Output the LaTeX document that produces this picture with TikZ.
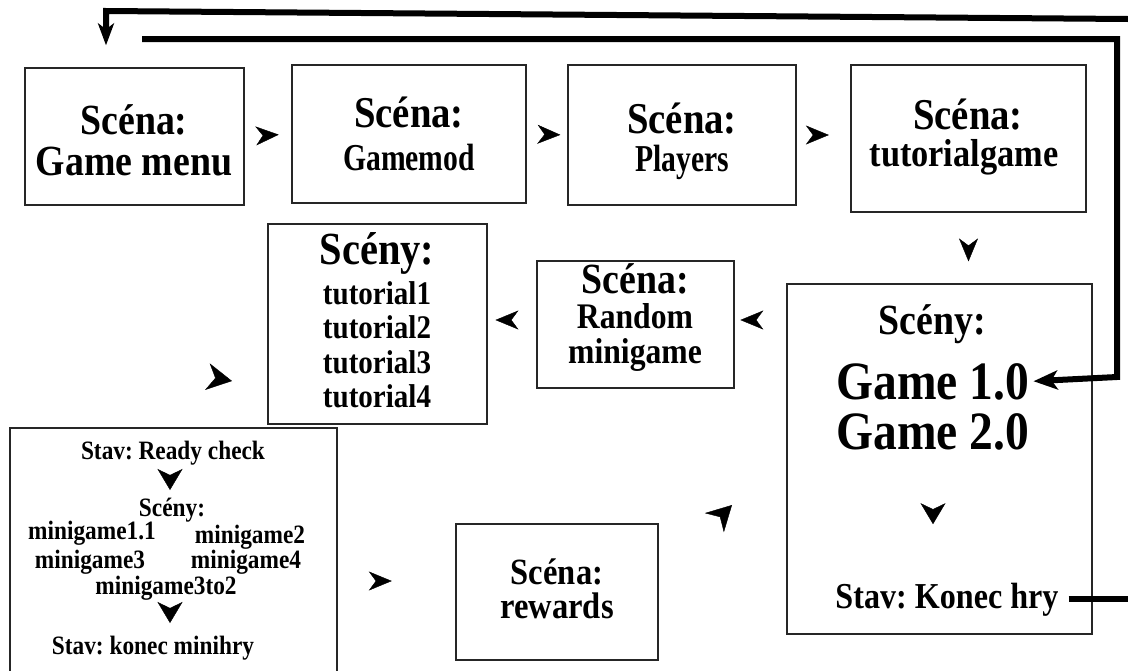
\documentclass[tikz,border=0pt]{standalone}
\usepackage{fontspec}
\setmainfont{Liberation Serif}[FakeStretch=0.88]
\newfontfamily\condfont{Liberation Serif}[FakeStretch=0.78]
\usetikzlibrary{arrows.meta,decorations.markings,calc}
\newcommand{\fz}[1]{\fontsize{#1}{#1}\selectfont\bfseries\frenchspacing}
\begin{document}
\begin{tikzpicture}[x=1pt,y=-1pt,
  box/.style={draw=black!85, line width=1.3pt, inner sep=0pt},
  lbl/.style={inner sep=0pt, anchor=base},
  big/.style={line width=6pt},
  bigtip/.style={-{Stealth[length=24pt,width=19pt,inset=6pt]}},
  topdown/.style={-{Stealth[length=22pt,width=16pt,inset=6pt]}},
  tipat/.style={decorate, decoration={markings, mark=at position #1 with {\arrow{Stealth[length=23pt,width=19pt,inset=7pt]}}}},
  fattipat/.style={decorate, decoration={markings, mark=at position #1 with {\arrow{Stealth[length=25pt,width=27pt,inset=8pt]}}}},
  smalltipat/.style={decorate, decoration={markings, mark=at position #1 with {\arrow{Stealth[length=21pt,width=25pt,inset=6pt]}}}}
]
\useasboundingbox (0,0) rectangle (1128,670);

% boxes
\node[box, minimum width=219, minimum height=137] (b1) at (134.5,136.5) {};
\node[box, minimum width=234, minimum height=138] (b2) at (409,134) {};
\node[box, minimum width=228, minimum height=140] (b3) at (682,135) {};
\node[box, minimum width=235, minimum height=147] (b4) at (968.5,138.5) {};
\node[box, minimum width=305, minimum height=350] (b5) at (939.5,459) {};
\node[box, minimum width=197, minimum height=127] (b6) at (635.5,324.5) {};
\node[box, minimum width=219, minimum height=200] (b7) at (377.5,324) {};
\node[box, minimum width=327, minimum height=246] (b8) at (173.5,551) {};
\node[box, minimum width=202, minimum height=136] (rw) at (557,592) {};

% texts
\node[lbl, font=\fz{43}] (t1a) at (134,134) {Scéna:};
\node[lbl, font=\fz{43}] (t1b) at (134,175) {Game menu};
\node[lbl, font=\fz{44}] (t2a) at (409,127) {Scéna:};
\node[lbl, font=\condfont\fz{38}] (t2b) at (409,170) {Gamemod};
\node[lbl, font=\fz{44}] (t3a) at (682,133) {Scéna:};
\node[lbl, font=\condfont\fz{38}] (t3b) at (682,171) {Players};
\node[lbl, font=\fz{44}] (t4a) at (968,129) {Scéna:};
\node[lbl, font=\fz{39}] (t4b) at (964,166) {tutorialgame};

\node[lbl, font=\fz{43}] (t6a) at (635,293) {Scéna:};
\node[lbl, font=\fz{36}] (t6b) at (635,328) {Random};
\node[lbl, font=\fz{36}] (t6c) at (635,363) {minigame};

\node[lbl, font=\fz{46}] (t7a) at (377,264) {Scény:};
\node[lbl, font=\fz{33}] (t7b) at (377,304) {tutorial1};
\node[lbl, font=\fz{33}] (t7c) at (377,338) {tutorial2};
\node[lbl, font=\fz{33}] (t7d) at (377,373) {tutorial3};
\node[lbl, font=\fz{33}] (t7e) at (377,407) {tutorial4};

\node[lbl, font=\fz{43}] (s5) at (932,334) {Scény:};
\node[lbl, font=\fz{54}] (g1) at (933,399) {Game 1.0};
\node[lbl, font=\fz{54}] (g2) at (933,449) {Game 2.0};
\node[lbl, font=\fz{36.5}] (k5) at (947,608) {Stav: Konec hry};

\node[lbl, font=\fz{37}] (rwa) at (557,584) {Scéna:};
\node[lbl, font=\fz{37}] (rwb) at (557,618) {rewards};

\node[lbl, font=\fz{26.5}] (rc) at (173,459) {Stav: Ready check};
\node[lbl, font=\fz{26.5}] (sc) at (172,516) {Scény:};
\node[lbl, font=\fz{26.5}] (m11) at (92,539) {minigame1.1};
\node[lbl, font=\fz{26.5}] (m2) at (250,543) {minigame2};
\node[lbl, font=\fz{26.5}] (m3) at (90,568) {minigame3};
\node[lbl, font=\fz{26.5}] (m4) at (246,568) {minigame4};
\node[lbl, font=\fz{26.5}] (m32) at (166,594) {minigame3to2};
\node[lbl, font=\fz{26.5}] (kon) at (153,654) {Stav: konec minihry};

% arrowhead-only connectors
\path[tipat=0.73] (b1.east) -- (b2.west);
\path[tipat=0.83] (b2.west -| b2.east) -- (b3.west);
\path[tipat=0.6] (b3.east) -- (b3.east -| b4.west);
\path[tipat=0.69] (b4.south) -- (b4.south |- b5.north);
\path[tipat=0.89] (b5.west |- 0,320) -- (b6.east |- 0,320);
\path[tipat=0.84] (b6.west |- 0,320) -- (b7.east |- 0,320);
\coordinate (t78) at (232,381);
\path[fattipat=1] ($(t78)+(190:24)$) -- (t78);
\path[tipat=0.46] (b8.east |- 0,581) -- (rw.west |- 0,581);
\coordinate (t95) at (732,505);
\path[fattipat=1] ($(t95)+(135:24)$) -- (t95);
\path[smalltipat=0.56] (g2.south) -- (g2.south |- k5.north);
\path[smalltipat=1] (rc.south -| 170,0) -- (170,490);
\path[smalltipat=1] (m32.south -| 170,0) -- (170,623);

% long return connectors
\coordinate (inR) at (1128,19);
\coordinate (c1) at (106,11);
\draw[big, topdown, shorten >=22pt] (inR) -- (c1) -- (c1 |- b1.north);
\coordinate (st2) at (142,39);
\coordinate (c2) at (1117,39);
\coordinate (c3) at (1117,377);
\draw[big, bigtip, shorten >=4pt] (st2) -- (c2) -- (c3) -- (g1.east);
\coordinate (outR) at (1128,599);
\draw[big, shorten <=10pt] (k5.east |- outR) -- (outR);
\end{tikzpicture}
\end{document}
